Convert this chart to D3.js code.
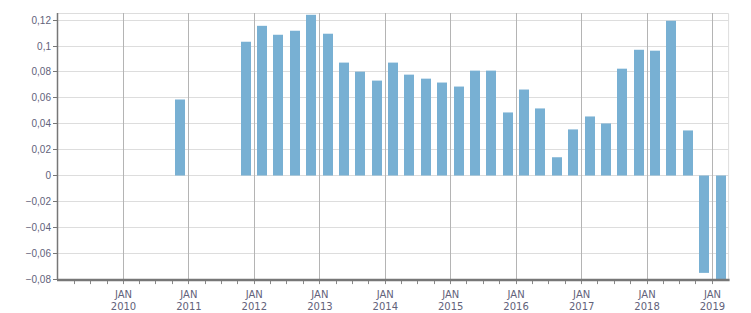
<!DOCTYPE html>
<html lang="en">
  <head>
    <meta charset="UTF-8" />
    <title>Quarterly change</title>
    <style>
      body {
        margin: 0;
        background: #fff;
        font-family: "DejaVu Sans", Verdana, sans-serif;
      }
      .tick text {
        fill: #62627a;
        font-size: 10px;
      }
      .grid-h line {
        stroke: #dddddd;
      }
      .grid-v line {
        stroke: #b4b4b4;
      }
      .bar {
        fill: #78b0d3;
      }
    </style>
  </head>
  <body>
    <svg width="751" height="313"></svg>

    <script src="https://d3js.org/d3.v7.min.js"></script>
    <script>
      // quarters (year, quarter number) and their values
      const quarters = [
        "2010-Q4",
        "2011-Q4",
        "2012-Q1", "2012-Q2", "2012-Q3", "2012-Q4",
        "2013-Q1", "2013-Q2", "2013-Q3", "2013-Q4",
        "2014-Q1", "2014-Q2", "2014-Q3", "2014-Q4",
        "2015-Q1", "2015-Q2", "2015-Q3", "2015-Q4",
        "2016-Q1", "2016-Q2", "2016-Q3", "2016-Q4",
        "2017-Q1", "2017-Q2", "2017-Q3", "2017-Q4",
        "2018-Q1", "2018-Q2", "2018-Q3", "2018-Q4",
        "2019-Q1",
      ];
      const values = [
        0.0587,
        0.1033,
        0.1156, 0.1087, 0.1118, 0.1241,
        0.1095, 0.0872, 0.0802, 0.0733,
        0.0872, 0.0779, 0.0748, 0.0718,
        0.0687, 0.081, 0.081, 0.0487,
        0.0664, 0.0518, 0.0141, 0.0356,
        0.0456, 0.0402, 0.0825, 0.0971,
        0.0964, 0.1195, 0.0348, -0.0752,
        -0.0805,
      ];
      const yTicks = [-0.08, -0.06, -0.04, -0.02, 0, 0.02, 0.04, 0.06, 0.08, 0.1, 0.12];
      const yearTicks = [2010, 2011, 2012, 2013, 2014, 2015, 2016, 2017, 2018, 2019];

      const mLeft = 57, mRight = 728.6, mTop = 13, mBottom = 279.1;

      const svg = d3.select("svg");

      const x = d3
        .scaleTime()
        .domain([new Date(2009, 0, 1), new Date(2019, 3, 1)])
        .range([58.1, mRight]);

      const y = d3.scaleLinear().domain([-0.08, 0.1255]).range([mBottom, mTop]);

      // middle of a quarter
      function midQuarter(q) {
        const yr = +q.slice(0, 4);
        const n = +q.slice(6);
        return new Date(yr, (n - 1) * 3 + 1, 15);
      }

      const data = quarters.map((q, i) => ({ date: midQuarter(q), value: values[i] }));
      const fmt = (d) => (d === 0 ? "0" : d3.format(".2~f")(d).replace(".", ","));

      // horizontal grid
      svg
        .append("g")
        .attr("class", "grid-h")
        .selectAll("line")
        .data(yTicks)
        .join("line")
        .attr("x1", mLeft)
        .attr("x2", mRight)
        .attr("y1", (d) => Math.floor(y(d)) + 0.5)
        .attr("y2", (d) => Math.floor(y(d)) + 0.5);

      // frame top + right
      svg
        .append("path")
        .attr("d", `M${mLeft},${mTop + 0.5}H${mRight}V${mBottom}`)
        .attr("fill", "none")
        .attr("stroke", "#dddddd");

      // vertical grid at january
      const janDates = yearTicks.map((yr) => new Date(yr, 0, 1));
      svg
        .append("g")
        .attr("class", "grid-v")
        .selectAll("line")
        .data(janDates)
        .join("line")
        .attr("x1", (d) => Math.floor(x(d)) + 0.5)
        .attr("x2", (d) => Math.floor(x(d)) + 0.5)
        .attr("y1", mTop)
        .attr("y2", mBottom);

      // bars
      const barW = 10;
      svg
        .append("g")
        .selectAll("rect")
        .data(data)
        .join("rect")
        .attr("class", "bar")
        .attr("x", (d) => Math.round(x(d.date) - barW / 2))
        .attr("width", barW)
        .attr("y", (d) => y(Math.max(0, d.value)))
        .attr("height", (d) => Math.abs(y(d.value) - y(0)));

      // y axis
      const yAxis = svg
        .append("g")
        .attr("transform", `translate(${mLeft},0)`)
        .call(d3.axisLeft(y).tickValues(yTicks).tickFormat(fmt).tickSize(4).tickPadding(2));
      yAxis.select(".domain").remove();
      yAxis.selectAll(".tick").attr("transform", (d) => `translate(0,${Math.floor(y(d)) + 0.5})`);
      yAxis.selectAll(".tick line").attr("stroke", "#777");
      yAxis
        .append("line")
        .attr("x1", 0.5)
        .attr("x2", 0.5)
        .attr("y1", mTop)
        .attr("y2", mBottom)
        .attr("stroke", "#777")
        .attr("stroke-width", 1.5);

      // x axis, quarterly ticks
      const quarterTicks = d3.timeMonth.every(3).range(new Date(2009, 3, 1), new Date(2019, 3, 1));
      const xAxis = svg
        .append("g")
        .attr("transform", `translate(0,${mBottom + 1})`)
        .call(d3.axisBottom(x).tickValues(quarterTicks).tickSize(4).tickFormat(""));
      xAxis.select(".domain").remove();
      xAxis.selectAll(".tick").attr("transform", (d) => `translate(${Math.floor(x(d)) + 0.5},0)`);
      xAxis.selectAll(".tick line").attr("stroke", "#888");
      xAxis
        .append("line")
        .attr("x1", mLeft)
        .attr("x2", mRight + 1)
        .attr("y1", 0)
        .attr("y2", 0)
        .attr("stroke", "#777")
        .attr("stroke-width", 2.5);

      // year labels
      const lbl = svg
        .append("g")
        .selectAll("text")
        .data(janDates)
        .join("text")
        .attr("text-anchor", "middle")
        .attr("fill", "#62627a")
        .attr("font-size", 10)
        .attr("x", (d) => x(d));
      lbl.append("tspan").attr("x", (d) => x(d)).attr("y", 298).text("JAN");
      lbl.append("tspan").attr("x", (d) => x(d)).attr("y", 310).text((d) => d.getFullYear());
    </script>
  </body>
</html>
